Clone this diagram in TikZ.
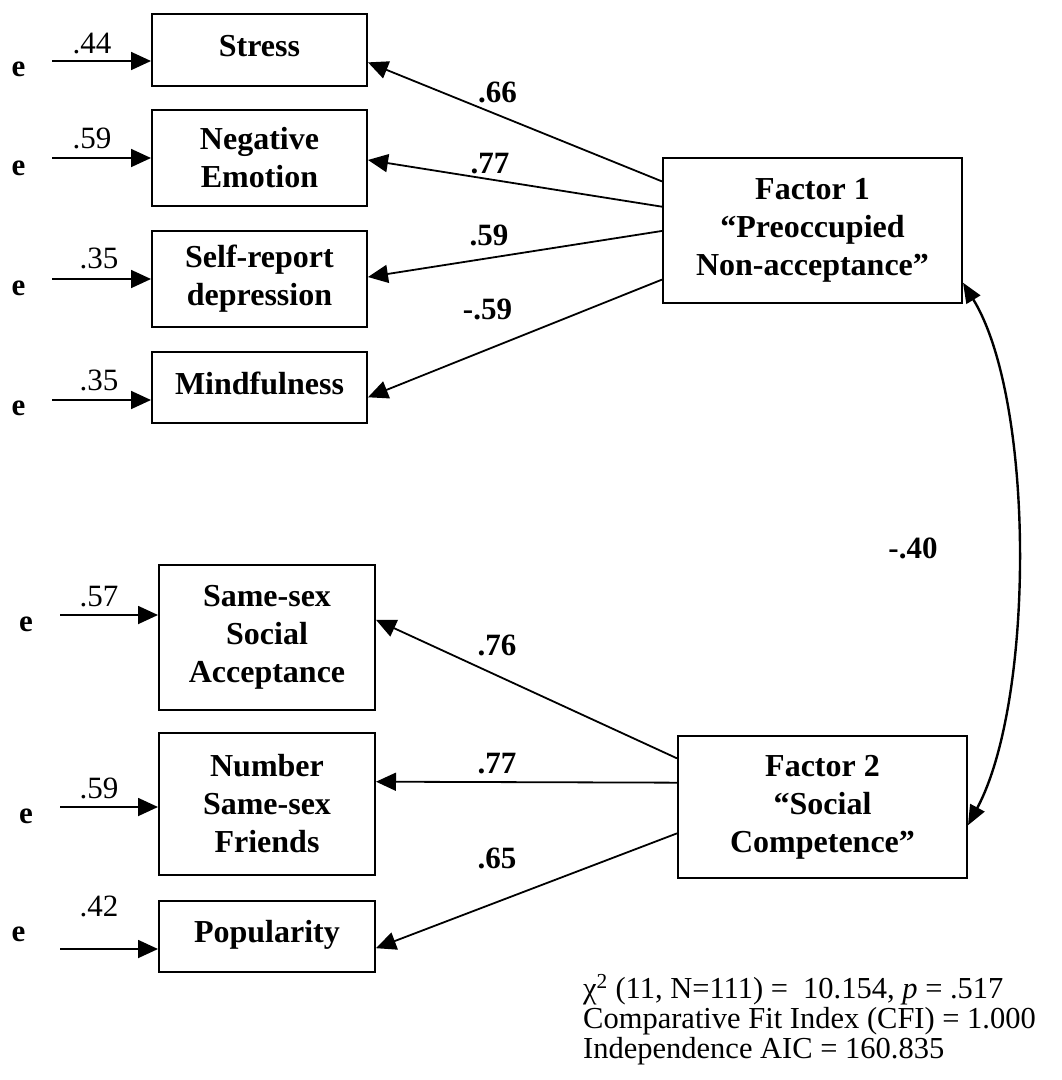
\documentclass[tikz,border=0pt]{standalone}
\usepackage{fontspec}
\setmainfont{Liberation Serif}
\usetikzlibrary{arrows.meta,calc}
\begin{document}
\begin{tikzpicture}[x=1pt,y=-1pt,
  box/.style={draw,line width=2pt,rectangle,inner sep=0pt,align=center,
    font=\fontsize{32}{38}\selectfont\bfseries},
  oneline/.style={text depth=9pt},
  elbl/.style={font=\fontsize{31}{31}\selectfont\bfseries,anchor=base},
  evar/.style={font=\fontsize{31}{31}\selectfont,anchor=base},
  loadlbl/.style={font=\fontsize{31}{31}\selectfont\bfseries,anchor=base},
  fitline/.style={font=\fontsize{30.5}{30.5}\selectfont,anchor=base west,inner sep=0pt},
  regarrow/.style={line width=1.8pt,-{Triangle[length=20pt,width=18pt]}},
  covarrow/.style={line width=2.4pt,{Triangle[length=20pt,width=16pt]}-{Triangle[length=20pt,width=16pt]}},
  ]
\useasboundingbox (0,0) rectangle (1062,1080);

% observed indicators of factor 1
\node[box,oneline,minimum width=215pt,minimum height=72pt] (stress)  at (259.5,50)    {Stress};
\node[box,minimum width=215pt,minimum height=96pt] (negemo)  at (259.5,158)   {Negative\\Emotion};
\node[box,minimum width=215pt,minimum height=96pt] (selfrep) at (259.5,279)   {Self-report\\depression};
\node[box,oneline,minimum width=215pt,minimum height=71pt] (mindful) at (259.5,387.5) {Mindfulness};

% observed indicators of factor 2
\node[box,minimum width=216pt,minimum height=145pt] (ssa)  at (267,637.5) {Same-sex\\Social\\Acceptance};
\node[box,minimum width=216pt,minimum height=142pt] (nssf) at (267,804)   {Number\\Same-sex\\Friends};
\node[box,minimum width=216pt,minimum height=71pt,text depth=11pt]  (pop)  at (267,936.5) {Popularity};

% latent factors
\node[box,minimum width=299pt,minimum height=145pt] (f1) at (812.5,230.5) {Factor 1\\“Preoccupied\\Non-acceptance”};
\node[box,minimum width=289pt,minimum height=142pt] (f2) at (822.5,807)   {Factor 2\\“Social\\Competence”};

% error terms
\node[elbl] (e1) at (18.5,76)  {e};
\node[elbl] (e2) at (18.5,175) {e};
\node[elbl] (e3) at (18.5,295) {e};
\node[elbl] (e4) at (18.5,415) {e};
\node[elbl] (e5) at (26,631)   {e};
\node[elbl] (e6) at (26,823)   {e};
\node[elbl] (e7) at (18.5,941) {e};

\coordinate (s1) at (52,61);
\coordinate (s2) at (52,158);
\coordinate (s3) at (52,279);
\coordinate (s4) at (52,400);
\coordinate (s5) at (60,615);
\coordinate (s6) at (60,807);
\coordinate (s7) at (60,949);

\draw[regarrow] (s1) -- (stress.west |- s1);
\draw[regarrow] (s2) -- (negemo.west |- s2);
\draw[regarrow] (s3) -- (selfrep.west |- s3);
\draw[regarrow] (s4) -- (mindful.west |- s4);
\draw[regarrow] (s5) -- (ssa.west |- s5);
\draw[regarrow] (s6) -- (nssf.west |- s6);
\draw[regarrow] (s7) -- (pop.west |- s7);

% error variances
\node[evar] (v1) at (92,53)  {.44};
\node[evar] (v2) at (92,148) {.59};
\node[evar] (v3) at (99,268) {.35};
\node[evar] (v4) at (99,390) {.35};
\node[evar] (v5) at (99,606) {.57};
\node[evar] (v6) at (99,798) {.59};
\node[evar] (v7) at (99,916) {.42};

% factor loadings
\draw[regarrow] ($(f1.north west)!0.166!(f1.south west)$) -- ($(stress.north east)!0.667!(stress.south east)$);
\draw[regarrow] ($(f1.north west)!0.338!(f1.south west)$) -- ($(negemo.north east)!0.52!(negemo.south east)$);
\draw[regarrow] ($(f1.north west)!0.503!(f1.south west)$) -- ($(selfrep.north east)!0.48!(selfrep.south east)$);
\draw[regarrow] ($(f1.north west)!0.834!(f1.south west)$) -- ($(mindful.north east)!0.634!(mindful.south east)$);

\draw[regarrow] ($(f2.north west)!0.162!(f2.south west)$) -- ($(ssa.north east)!0.38!(ssa.south east)$);
\draw[regarrow] ($(f2.north west)!0.331!(f2.south west)$) -- ($(nssf.north east)!0.345!(nssf.south east)$);
\draw[regarrow] ($(f2.north west)!0.683!(f2.south west)$) -- ($(pop.north east)!0.66!(pop.south east)$);

\node[loadlbl] (l1) at (497.5,102) {.66};
\node[loadlbl] (l2) at (490,173)   {.77};
\node[loadlbl] (l3) at (489,245)   {.59};
\node[loadlbl] (l4) at (487.5,319) {-.59};
\node[loadlbl] (l5) at (497,655)   {.76};
\node[loadlbl] (l6) at (497,773)   {.77};
\node[loadlbl] (l7) at (497,868)   {.65};

% factor covariance
\draw[covarrow] ($(f1.north east)!0.855!(f1.south east)$) .. controls (1035,400) and (1035,700) .. ($(f2.north east)!0.627!(f2.south east)$);
\node[loadlbl] (cov) at (913,558) {-.40};

% fit statistics
\node[fitline] (fit1) at (583,998)  {χ\textsuperscript{2} (11, N=111) =\ \ 10.154, \textit{p} = .517};
\node[fitline] (fit2) at (583,1028) {Comparative Fit Index (CFI) = 1.000};
\node[fitline] (fit3) at (583,1058) {Independence AIC = 160.835};
\end{tikzpicture}
\end{document}
